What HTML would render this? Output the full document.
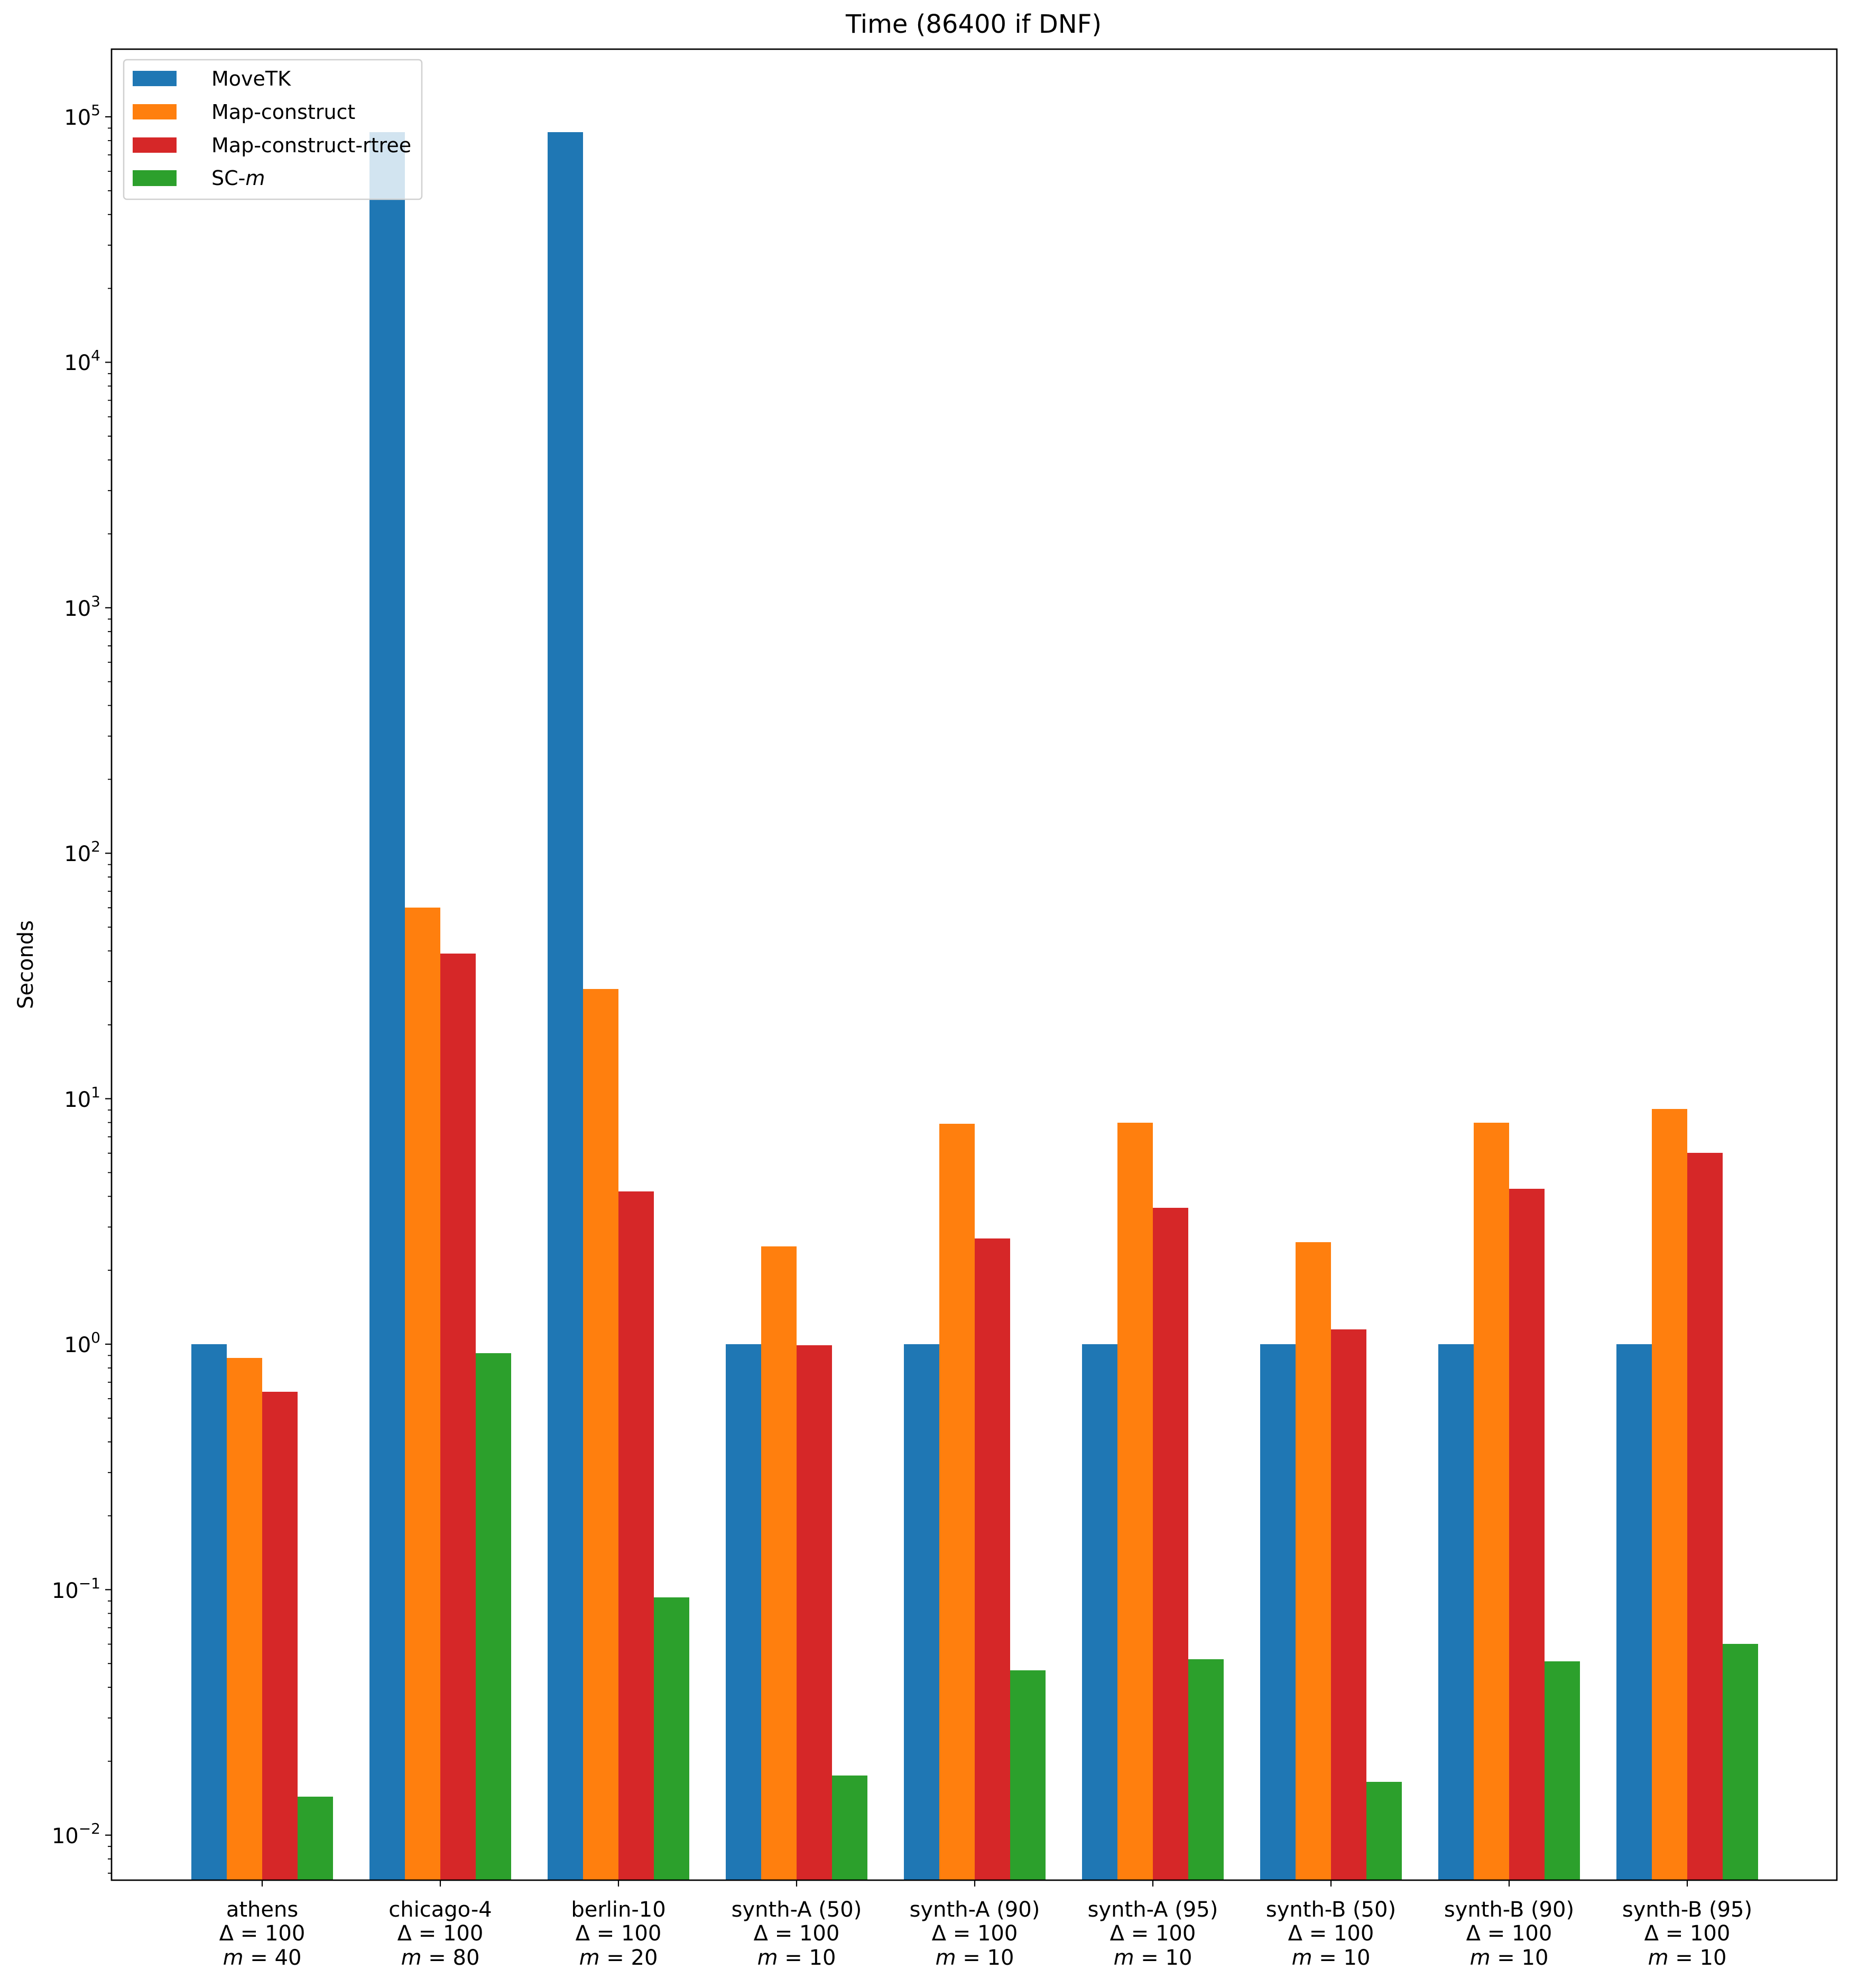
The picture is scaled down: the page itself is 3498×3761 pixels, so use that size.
<!DOCTYPE html>
<html><head><meta charset="utf-8"><style>
html,body{margin:0;padding:0;background:#fff}
svg text{font-family:"DejaVu Sans","Liberation Sans",sans-serif;fill:#000}
</style></head><body>
<svg width="3498" height="3756" viewBox="0 0 3498 3756" xmlns="http://www.w3.org/2000/svg">
<rect width="3498" height="3756" fill="#fff"/>
<text x="1842" y="62" font-size="48" text-anchor="middle">Time (86400 if DNF)</text>
<text transform="translate(62,1825) rotate(-90)" font-size="40" text-anchor="middle">Seconds</text>
<g id="bars">
<rect x="362" y="2543" width="67" height="1014" fill="#1f77b4"/>
<rect x="429" y="2569" width="67" height="988" fill="#ff7f0e"/>
<rect x="496" y="2633" width="67" height="924" fill="#d62728"/>
<rect x="563" y="3399" width="67" height="158" fill="#2ca02c"/>
<rect x="699" y="250" width="67" height="3307" fill="#1f77b4"/>
<rect x="766" y="1717" width="67" height="1840" fill="#ff7f0e"/>
<rect x="833" y="1804" width="67" height="1753" fill="#d62728"/>
<rect x="900" y="2560" width="67" height="997" fill="#2ca02c"/>
<rect x="1036" y="250" width="67" height="3307" fill="#1f77b4"/>
<rect x="1103" y="1871" width="67" height="1686" fill="#ff7f0e"/>
<rect x="1170" y="2254" width="67" height="1303" fill="#d62728"/>
<rect x="1237" y="3022" width="67" height="535" fill="#2ca02c"/>
<rect x="1373" y="2543" width="67" height="1014" fill="#1f77b4"/>
<rect x="1440" y="2358" width="67" height="1199" fill="#ff7f0e"/>
<rect x="1507" y="2545" width="67" height="1012" fill="#d62728"/>
<rect x="1574" y="3359" width="67" height="198" fill="#2ca02c"/>
<rect x="1710" y="2543" width="67" height="1014" fill="#1f77b4"/>
<rect x="1777" y="2126" width="67" height="1431" fill="#ff7f0e"/>
<rect x="1844" y="2343" width="67" height="1214" fill="#d62728"/>
<rect x="1911" y="3160" width="67" height="397" fill="#2ca02c"/>
<rect x="2047" y="2543" width="67" height="1014" fill="#1f77b4"/>
<rect x="2114" y="2124" width="67" height="1433" fill="#ff7f0e"/>
<rect x="2181" y="2285" width="67" height="1272" fill="#d62728"/>
<rect x="2248" y="3139" width="67" height="418" fill="#2ca02c"/>
<rect x="2384" y="2543" width="67" height="1014" fill="#1f77b4"/>
<rect x="2451" y="2350" width="67" height="1207" fill="#ff7f0e"/>
<rect x="2518" y="2515" width="67" height="1042" fill="#d62728"/>
<rect x="2585" y="3371" width="67" height="186" fill="#2ca02c"/>
<rect x="2721" y="2543" width="67" height="1014" fill="#1f77b4"/>
<rect x="2788" y="2124" width="67" height="1433" fill="#ff7f0e"/>
<rect x="2855" y="2249" width="67" height="1308" fill="#d62728"/>
<rect x="2922" y="3143" width="67" height="414" fill="#2ca02c"/>
<rect x="3058" y="2543" width="67" height="1014" fill="#1f77b4"/>
<rect x="3125" y="2098" width="67" height="1459" fill="#ff7f0e"/>
<rect x="3192" y="2181" width="67" height="1376" fill="#d62728"/>
<rect x="3259" y="3110" width="67" height="447" fill="#2ca02c"/>
</g>
<rect x="211" y="93" width="3264" height="3464" fill="none" stroke="#000" stroke-width="2.7"/>
<g stroke="#000" stroke-width="2.2">
<line x1="199" x2="211" y1="221" y2="221"/>
<line x1="199" x2="211" y1="685.4" y2="685.4"/>
<line x1="199" x2="211" y1="1149.8" y2="1149.8"/>
<line x1="199" x2="211" y1="1614.2" y2="1614.2"/>
<line x1="199" x2="211" y1="2078.6" y2="2078.6"/>
<line x1="199" x2="211" y1="2543" y2="2543"/>
<line x1="199" x2="211" y1="3007.4" y2="3007.4"/>
<line x1="199" x2="211" y1="3471.8" y2="3471.8"/>
</g>
<g stroke="#000" stroke-width="1.8">
<path d="M204 3543.8H211M204 3516.8H211M204 3493.2H211
M204 3332H211M204 3250.2H211M204 3192.2H211M204 3147.2H211M204 3110.5H211M204 3079.4H211M204 3052.4H211M204 3028.8H211
M204 2867.6H211M204 2785.8H211M204 2727.8H211M204 2682.8H211M204 2646.1H211M204 2615H211M204 2588H211M204 2564.4H211
M204 2403.2H211M204 2321.4H211M204 2263.4H211M204 2218.4H211M204 2181.7H211M204 2150.6H211M204 2123.6H211M204 2100H211
M204 1938.8H211M204 1857H211M204 1799H211M204 1754H211M204 1717.3H211M204 1686.2H211M204 1659.2H211M204 1635.6H211
M204 1474.4H211M204 1392.6H211M204 1334.6H211M204 1289.6H211M204 1252.9H211M204 1221.8H211M204 1194.8H211M204 1171.2H211
M204 1010H211M204 928.2H211M204 870.2H211M204 825.2H211M204 788.5H211M204 757.4H211M204 730.4H211M204 706.8H211
M204 545.6H211M204 463.8H211M204 405.8H211M204 360.8H211M204 324.1H211M204 293H211M204 266H211M204 242.4H211"/>
</g>
<g font-size="40" text-anchor="end">
<text x="190" y="236">10<tspan dy="-18" font-size="28">5</tspan></text>
<text x="190" y="700">10<tspan dy="-18" font-size="28">4</tspan></text>
<text x="190" y="1165">10<tspan dy="-18" font-size="28">3</tspan></text>
<text x="190" y="1629">10<tspan dy="-18" font-size="28">2</tspan></text>
<text x="190" y="2094">10<tspan dy="-18" font-size="28">1</tspan></text>
<text x="190" y="2558">10<tspan dy="-18" font-size="28">0</tspan></text>
<text x="190" y="3023">10<tspan dy="-18" font-size="28">−1</tspan></text>
<text x="190" y="3487">10<tspan dy="-18" font-size="28">−2</tspan></text>
</g>
<g stroke="#000" stroke-width="2.2">
<path d="M496 3557V3569M833 3557V3569M1170 3557V3569M1507 3557V3569M1844 3557V3569M2181 3557V3569M2518 3557V3569M2855 3557V3569M3192 3557V3569"/>
</g>
<g font-size="40" text-anchor="middle">
<text x="496" y="3626">athens</text><text x="496" y="3671">Δ = 100</text><text x="496" y="3717"><tspan font-style="italic">m</tspan> = 40</text>
<text x="833" y="3626">chicago-4</text><text x="833" y="3671">Δ = 100</text><text x="833" y="3717"><tspan font-style="italic">m</tspan> = 80</text>
<text x="1170" y="3626">berlin-10</text><text x="1170" y="3671">Δ = 100</text><text x="1170" y="3717"><tspan font-style="italic">m</tspan> = 20</text>
<text x="1507" y="3626">synth-A (50)</text><text x="1507" y="3671">Δ = 100</text><text x="1507" y="3717"><tspan font-style="italic">m</tspan> = 10</text>
<text x="1844" y="3626">synth-A (90)</text><text x="1844" y="3671">Δ = 100</text><text x="1844" y="3717"><tspan font-style="italic">m</tspan> = 10</text>
<text x="2181" y="3626">synth-A (95)</text><text x="2181" y="3671">Δ = 100</text><text x="2181" y="3717"><tspan font-style="italic">m</tspan> = 10</text>
<text x="2518" y="3626">synth-B (50)</text><text x="2518" y="3671">Δ = 100</text><text x="2518" y="3717"><tspan font-style="italic">m</tspan> = 10</text>
<text x="2855" y="3626">synth-B (90)</text><text x="2855" y="3671">Δ = 100</text><text x="2855" y="3717"><tspan font-style="italic">m</tspan> = 10</text>
<text x="3192" y="3626">synth-B (95)</text><text x="3192" y="3671">Δ = 100</text><text x="3192" y="3717"><tspan font-style="italic">m</tspan> = 10</text>
</g>
<rect x="234" y="113" width="564" height="264" rx="6" fill="rgba(255,255,255,0.8)" stroke="#d0d0d0" stroke-width="2.5"/>
<rect x="251" y="134" width="83" height="29" fill="#1f77b4"/>
<rect x="251" y="197" width="83" height="29" fill="#ff7f0e"/>
<rect x="251" y="260" width="83" height="29" fill="#d62728"/>
<rect x="251" y="322" width="83" height="30" fill="#2ca02c"/>
<g font-size="38">
<text x="400" y="162">MoveTK</text>
<text x="400" y="225">Map-construct</text>
<text x="400" y="288">Map-construct-rtree</text>
<text x="400" y="350">SC-<tspan font-style="italic">m</tspan></text>
</g>
</svg>
</body></html>
